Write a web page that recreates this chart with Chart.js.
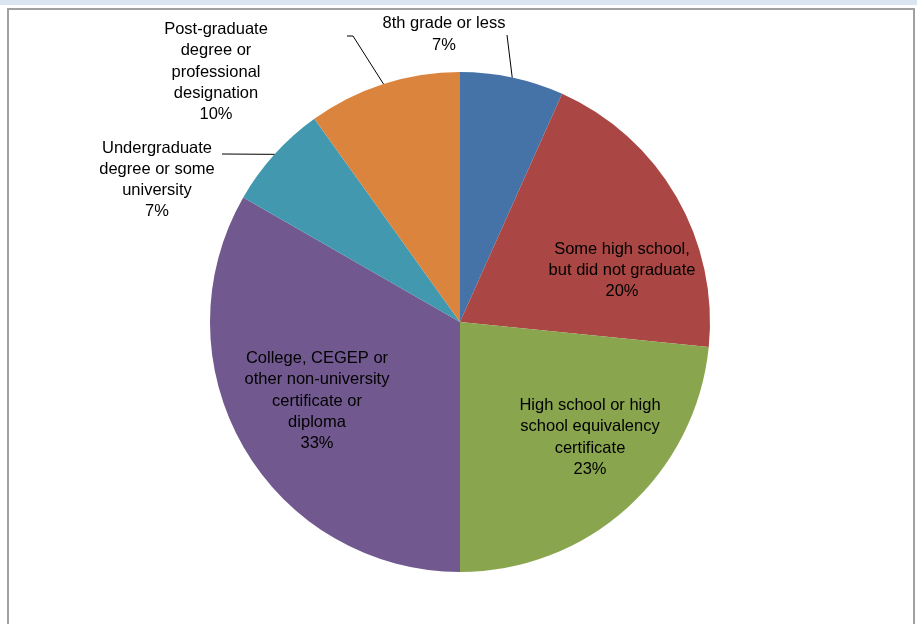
<!DOCTYPE html>
<html>
<head>
<meta charset="utf-8">
<script src="https://cdn.jsdelivr.net/npm/chart.js@4/dist/chart.umd.min.js"></script>
<style>
  html, body { margin: 0; padding: 0; background: #fff; }
  #band { position: absolute; left: 0; top: 0; width: 917px; height: 5px; background: #dbe5f1; }
  #frame { position: absolute; left: 7px; top: 8px; width: 904px; height: 640px; border: 2px solid #a0a0a0; }
  #wrap { position: absolute; left: 0; top: 0; width: 917px; height: 624px; }
</style>
</head>
<body>
<div id="band"></div>
<div id="frame"></div>
<div id="wrap"><canvas id="pie-chart" width="917" height="624"></canvas></div>
<script>
// education levels, clockwise from 12 o'clock
const categories = [
  ['8th grade or less'],
  ['Some high school,', 'but did not graduate'],
  ['High school or high', 'school equivalency', 'certificate'],
  ['College, CEGEP or', 'other non-university', 'certificate or', 'diploma'],
  ['Undergraduate', 'degree or some', 'university'],
  ['Post-graduate', 'degree or', 'professional', 'designation']
];
const shares = [6.7, 19.9, 23.4, 33.3, 6.8, 9.9];
const pctLabels = ['7%', '20%', '23%', '33%', '7%', '10%'];
const colors = ['#4572A7', '#AA4643', '#89A54E', '#71588F', '#4198AF', '#DB843D'];

// label block centre, in radius units from pie centre; leader = start point of leader line (or null)
const labelSpots = [
  { x: -0.064, y: -1.15, leader: [[0.188, -1.148]] },
  { x: 0.648, y: -0.206, leader: null },
  { x: 0.52, y: 0.462, leader: null },
  { x: -0.572, y: 0.316, leader: null },
  { x: -1.212, y: -0.568, leader: [[-0.952, -0.672]] },
  { x: -0.976, y: -1.0, leader: [[-0.452, -1.144], [-0.428, -1.144]] }
];

const labelPlugin = {
  id: 'sliceLabels',
  afterDatasetsDraw(chart) {
    const ctx = chart.ctx;
    const arcs = chart.getDatasetMeta(0).data;
    ctx.save();
    ctx.font = '16.5px "Liberation Sans", Arial, sans-serif';
    ctx.fillStyle = '#000';
    ctx.textAlign = 'center';
    ctx.textBaseline = 'middle';
    arcs.forEach((arc, i) => {
      const r = arc.outerRadius, cx = arc.x, cy = arc.y;
      const spot = labelSpots[i];
      const lines = categories[i].concat([pctLabels[i]]);
      const lh = 21.3;
      const bx = cx + spot.x * r, by = cy + spot.y * r;
      lines.forEach((t, k) => {
        ctx.fillText(t, bx, by + (k - (lines.length - 1) / 2) * lh);
      });
      if (spot.leader) {
        const mid = (arc.startAngle + arc.endAngle) / 2;
        ctx.strokeStyle = '#000';
        ctx.lineWidth = 1;
        ctx.beginPath();
        spot.leader.forEach((p, k) => {
          const px = cx + p[0] * r, py = cy + p[1] * r;
          if (k === 0) ctx.moveTo(px, py); else ctx.lineTo(px, py);
        });
        ctx.lineTo(cx + Math.cos(mid) * r, cy + Math.sin(mid) * r);
        ctx.stroke();
      }
    });
    ctx.restore();
  }
};

const ctx = document.getElementById('pie-chart').getContext('2d');
new Chart(ctx, {
  type: 'pie',
  data: {
    labels: categories.map(c => c.join(' ')),
    datasets: [{
      data: shares,
      backgroundColor: colors,
      borderWidth: 0
    }]
  },
  options: {
    responsive: false,
    animation: false,
    layout: { padding: { left: 210, right: 207, top: 72, bottom: 52 } },
    plugins: {
      legend: { display: false },
      tooltip: { enabled: false }
    }
  },
  plugins: [labelPlugin]
});
</script>
</body>
</html>
